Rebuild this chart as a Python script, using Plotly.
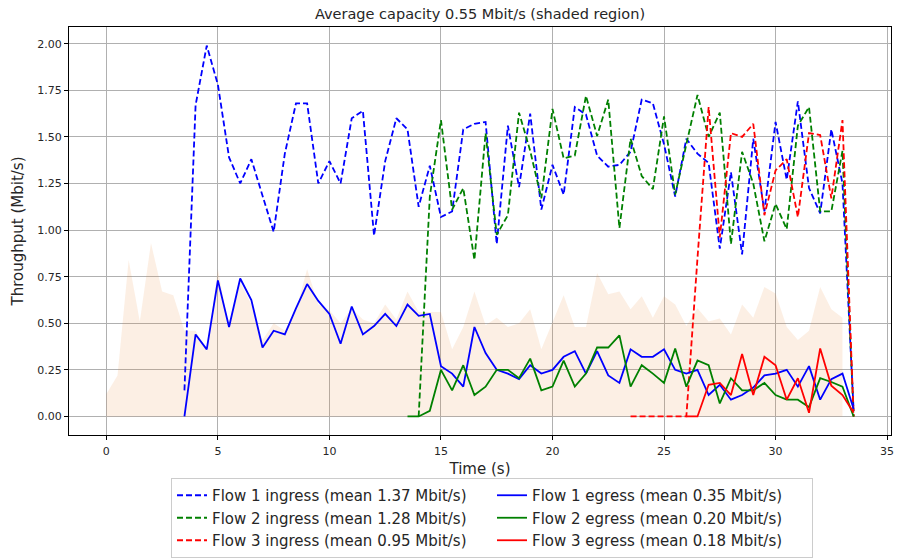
import plotly.graph_objects as go

# ---------------- data ----------------
cap_t = [i * 0.5 for i in range(67)]  # 0 .. 33
cap_v = [0.12, 0.22, 0.84, 0.51, 0.93, 0.67, 0.65, 0.46, 0.46, 0.35,
         0.79, 0.47, 0.72, 0.60, 0.41, 0.50, 0.46, 0.57, 0.79, 0.60,
         0.57, 0.50, 0.58, 0.52, 0.50, 0.60, 0.52, 0.67, 0.56, 0.56,
         0.56, 0.36, 0.48, 0.67, 0.49, 0.53, 0.48, 0.50, 0.575, 0.36,
         0.50, 0.65, 0.48, 0.48, 0.77, 0.655, 0.67, 0.575, 0.645, 0.53,
         0.645, 0.60, 0.485, 0.58, 0.51, 0.525, 0.44, 0.60, 0.53, 0.695,
         0.66, 0.48, 0.41, 0.46, 0.695, 0.575, 0.53]

f1_t = [3.5 + i * 0.5 for i in range(61)]  # 3.5 .. 33.5
f1_in = [0.14, 1.67, 1.99, 1.78, 1.39, 1.25, 1.38, 1.19, 0.99, 1.41,
         1.68, 1.68, 1.25, 1.37, 1.25, 1.60, 1.64, 0.97, 1.37, 1.60,
         1.54, 1.125, 1.345, 1.07, 1.10, 1.54, 1.57, 1.58, 0.925, 1.56,
         1.23, 1.625, 1.11, 1.35, 1.19, 1.66, 1.62, 1.40, 1.34, 1.35,
         1.42, 1.70, 1.68, 1.46, 1.18, 1.49, 1.41, 1.36, 0.90, 1.31,
         0.87, 1.49, 1.10, 1.58, 1.27, 1.69, 1.225, 1.09, 1.54, 1.25,
         0.03]
f1_eg = [0.0, 0.44, 0.36, 0.73, 0.48, 0.74, 0.625, 0.37, 0.46, 0.44,
         0.58, 0.71, 0.62, 0.55, 0.39, 0.59, 0.44, 0.485, 0.55, 0.485,
         0.60, 0.54, 0.55, 0.27, 0.23, 0.16, 0.48, 0.34, 0.25, 0.23,
         0.20, 0.275, 0.23, 0.25, 0.32, 0.35, 0.23, 0.35, 0.22, 0.18,
         0.36, 0.32, 0.32, 0.36, 0.25, 0.23, 0.25, 0.115, 0.17, 0.09,
         0.115, 0.155, 0.22, 0.23, 0.25, 0.16, 0.27, 0.09, 0.20, 0.23,
         0.04]

f2_in_t = [14.0 + i * 0.5 for i in range(40)]  # 14 .. 33.5
f2_in = [0.0, 1.18, 1.59, 1.11, 1.225, 0.84, 1.52, 0.975, 1.08, 1.63,
         1.425, 1.17, 1.65, 1.385, 1.40, 1.72, 1.505, 1.70, 1.01, 1.49,
         1.29, 1.22, 1.61, 1.19, 1.46, 1.725, 1.50, 1.63, 0.925, 1.42,
         1.25, 0.94, 1.14, 1.005, 1.56, 1.66, 1.10, 1.10, 1.425, 0.0]
f2_eg_t = [13.5 + i * 0.5 for i in range(41)]  # 13.5 .. 33.5
f2_eg = [0.0, 0.0, 0.03, 0.25, 0.14, 0.275, 0.115, 0.16, 0.25, 0.25,
         0.205, 0.31, 0.14, 0.16, 0.30, 0.16, 0.23, 0.37, 0.37, 0.435,
         0.16, 0.275, 0.23, 0.18, 0.365, 0.16, 0.30, 0.275, 0.07, 0.205,
         0.14, 0.14, 0.18, 0.115, 0.09, 0.09, 0.05, 0.205, 0.185, 0.16,
         0.0]

f3_in_t = [23.5 + i * 0.5 for i in range(21)]  # 23.5 .. 33.5
f3_in = [0.0, 0.0, 0.0, 0.0, 0.0, 0.0, 0.85, 1.66, 0.96, 1.52,
         1.50, 1.57, 1.08, 1.32, 1.38, 1.07, 1.52, 1.51, 1.17, 1.59,
         0.0]
f3_eg_t = [26.0 + i * 0.5 for i in range(16)]  # 26 .. 33.5
f3_eg = [0.0, 0.0, 0.17, 0.18, 0.115, 0.335, 0.115, 0.32, 0.275, 0.09,
         0.205, 0.02, 0.365, 0.165, 0.115, 0.02]

x_ticks = [0, 5, 10, 15, 20, 25, 30, 35]
y_ticks = [0.0, 0.25, 0.5, 0.75, 1.0, 1.25, 1.5, 1.75, 2.0]

title_text = "Average capacity 0.55 Mbit/s (shaded region)"
names_in = ["Flow 1 ingress (mean 1.37 Mbit/s)",
            "Flow 2 ingress (mean 1.28 Mbit/s)",
            "Flow 3 ingress (mean 0.95 Mbit/s)"]
names_eg = ["Flow 1 egress (mean 0.35 Mbit/s)",
            "Flow 2 egress (mean 0.20 Mbit/s)",
            "Flow 3 egress (mean 0.18 Mbit/s)"]
colors = ["#0000ff", "#008000", "#ff0000"]

# ---------------- figure ----------------
fig = go.Figure()

fig.add_trace(go.Scatter(x=cap_t, y=cap_v, mode="lines", fill="tozeroy",
                         line=dict(width=0, color="rgba(230,130,50,0)"),
                         fillcolor="rgba(230,130,50,0.13)",
                         showlegend=False, hoverinfo="skip"))

in_data = [(f1_t, f1_in), (f2_in_t, f2_in), (f3_in_t, f3_in)]
eg_data = [(f1_t, f1_eg), (f2_eg_t, f2_eg), (f3_eg_t, f3_eg)]

for i, (tx, ty) in enumerate(in_data):
    fig.add_trace(go.Scatter(x=tx, y=ty, mode="lines", name=names_in[i],
                             line=dict(color=colors[i], width=1.8, dash="6px,3px"),
                             legendrank=2 * i + 1))
for i, (tx, ty) in enumerate(eg_data):
    fig.add_trace(go.Scatter(x=tx, y=ty, mode="lines", name=names_eg[i],
                             line=dict(color=colors[i], width=1.8),
                             legendrank=2 * i + 2))

axis_common = dict(showline=True, linecolor="black", linewidth=1, mirror=True,
                   showgrid=True, gridcolor="#b0b0b0", gridwidth=1,
                   zeroline=False, ticks="outside", ticklen=4,
                   tickcolor="black", tickfont=dict(size=11, color="#262626"),
                   automargin=False)

W, H = 898, 558

fig.update_layout(
    width=W, height=H,
    paper_bgcolor="white", plot_bgcolor="white",
    font=dict(family="DejaVu Sans", color="#262626"),
    margin=dict(l=69, r=7, t=27, b=123),
    title=dict(text=title_text, x=0.5, xref="paper", xanchor="center",
               y=1 - 14 / H, yref="container", yanchor="middle",
               font=dict(size=14.5, color="#262626")),
    xaxis=dict(range=[-1.675, 35.175], tickvals=x_ticks, ticklabelstandoff=2,
               title=dict(text="Time (s)", font=dict(size=15), standoff=10),
               **axis_common),
    yaxis=dict(range=[-0.0995, 2.0895], tickvals=y_ticks, tickformat=".2f",
               title=dict(text="Throughput (Mbit/s)", font=dict(size=15), standoff=10),
               **axis_common),
    legend=dict(orientation="h", x=492 / W, xanchor="center", xref="container",
                y=1 - 478 / H, yanchor="top", yref="container",
                font=dict(size=15, color="#262626"),
                bordercolor="#cccccc", borderwidth=1, bgcolor="white",
                entrywidth=275, entrywidthmode="pixels", traceorder="normal"),
)

# remove the default 8px page margin so the figure fills the window exactly
fig.write_html("out.html",
               config={"displayModeBar": False},
               post_script="document.body.style.margin='0px';")
